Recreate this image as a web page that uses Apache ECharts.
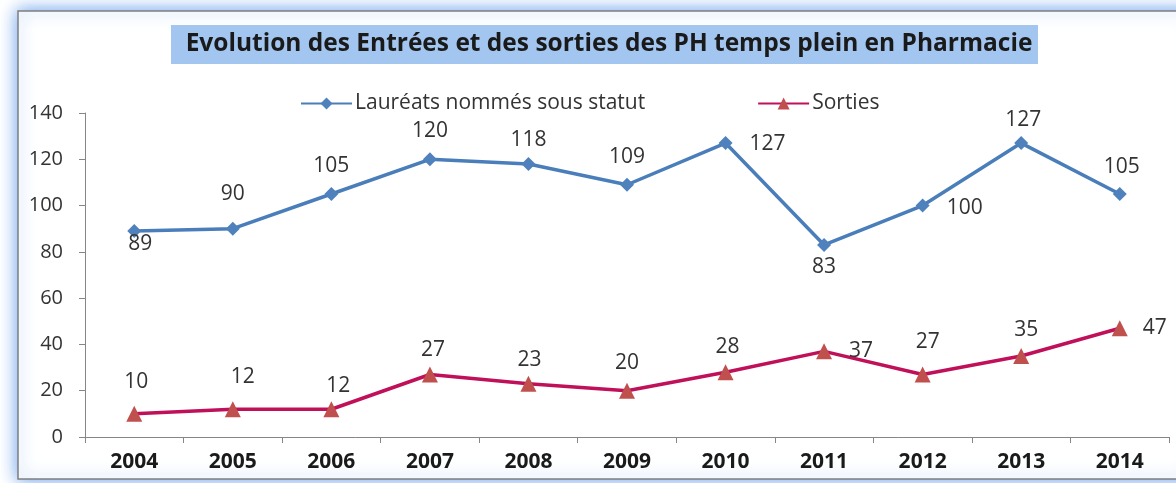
<!DOCTYPE html>
<html>
<head>
<meta charset="utf-8">
<script src="https://cdn.jsdelivr.net/npm/echarts@6/dist/echarts.min.js"></script>
<style>
  html, body { margin: 0; padding: 0; background: #fff; }
  #chart { width: 1176px; height: 483px; }
</style>
</head>
<body>
<div id="chart"></div>
<script>
// data
const years = ['2004', '2005', '2006', '2007', '2008', '2009', '2010', '2011', '2012', '2013', '2014'];
const laureats = [89, 90, 105, 120, 118, 109, 127, 83, 100, 127, 105];
const sorties = [10, 12, 12, 27, 23, 20, 28, 37, 27, 35, 47];

// label placement (px offsets from the marker), as in the original
const laureatsLabelOffsets = [[6, 13], [0, -35], [0, -28], [0, -28], [0, -24], [0, -28], [42, 1], [0, 22], [42, 2], [2, -23], [2, -27]];
const sortiesLabelOffsets = [[2, -32], [10, -32], [7, -23], [3, -24], [1, -24], [0, -28], [2, -25], [37, 0], [5, -32], [5, -26], [35, 0]];

const textColor = '#333333';
const axisColor = '#868686';

function withLabels(values, offsets) {
  return values.map((v, i) => ({
    value: v,
    label: { offset: offsets[i] }
  }));
}

const chart = echarts.init(document.getElementById('chart'));

chart.setOption({
  animation: false,
  graphic: [
    {
      type: 'rect',
      z: -10,
      shape: { x: 18, y: 11, width: 1175, height: 468 },
      style: {
        fill: '#ffffff',
        stroke: '#7f7f7f',
        lineWidth: 1.5,
        shadowBlur: 16,
        shadowColor: 'rgba(90, 150, 235, 0.95)'
      }
    },
    {
      type: 'rect',
      z: -5,
      shape: { x: 171, y: 25, width: 867, height: 39 },
      style: { fill: '#a3c6f0' }
    }
  ],
  title: {
    text: 'Evolution des Entrées et des sorties des PH temps plein en Pharmacie',
    left: 604,
    top: 27,
    textAlign: 'center',
    z: 5,
    textStyle: {
      fontFamily: 'Open Sans',
      fontWeight: 'bold',
      fontSize: 24.5,
      color: '#1a1a1a'
    }
  },
  legend: {
    left: 295,
    top: 88,
    itemWidth: 51,
    itemHeight: 15,
    itemGap: 112,
    textStyle: { fontFamily: 'Open Sans', fontSize: 21, color: textColor, padding: [0, 0, 0, -2] },
    data: ['Lauréats nommés sous statut', 'Sorties']
  },
  grid: {
    left: 85,
    right: 7,
    top: 113,
    bottom: 46
  },
  xAxis: {
    type: 'category',
    data: years,
    boundaryGap: true,
    axisLine: { lineStyle: { color: axisColor, width: 1 } },
    axisTick: { show: true, length: 6, interval: 0, lineStyle: { color: axisColor } },
    axisLabel: {
      margin: 15,
      fontFamily: 'Open Sans',
      fontWeight: 'bold',
      fontSize: 21,
      color: '#1a1a1a'
    },
    splitLine: { show: false }
  },
  yAxis: {
    type: 'value',
    min: 0,
    max: 140,
    interval: 20,
    axisLine: { show: true, lineStyle: { color: axisColor, width: 1 } },
    axisTick: { show: true, length: 6, lineStyle: { color: axisColor } },
    axisLabel: {
      margin: 22,
      fontFamily: 'Open Sans',
      fontSize: 20,
      color: textColor
    },
    splitLine: { show: false }
  },
  series: [
    {
      name: 'Lauréats nommés sous statut',
      type: 'line',
      data: withLabels(laureats, laureatsLabelOffsets),
      symbol: 'diamond',
      symbolSize: 14,
      lineStyle: { color: '#4a7ebb', width: 3.5 },
      itemStyle: { color: '#4f81bd' },
      label: {
        show: true,
        position: 'inside',
        fontFamily: 'Open Sans',
        fontSize: 21,
        color: textColor
      }
    },
    {
      name: 'Sorties',
      type: 'line',
      data: withLabels(sorties, sortiesLabelOffsets),
      symbol: 'triangle',
      symbolSize: 16,
      lineStyle: { color: '#c0105a', width: 3.5 },
      itemStyle: { color: '#c0504d' },
      label: {
        show: true,
        position: 'inside',
        fontFamily: 'Open Sans',
        fontSize: 21,
        color: textColor
      }
    }
  ]
});
</script>
</body>
</html>
